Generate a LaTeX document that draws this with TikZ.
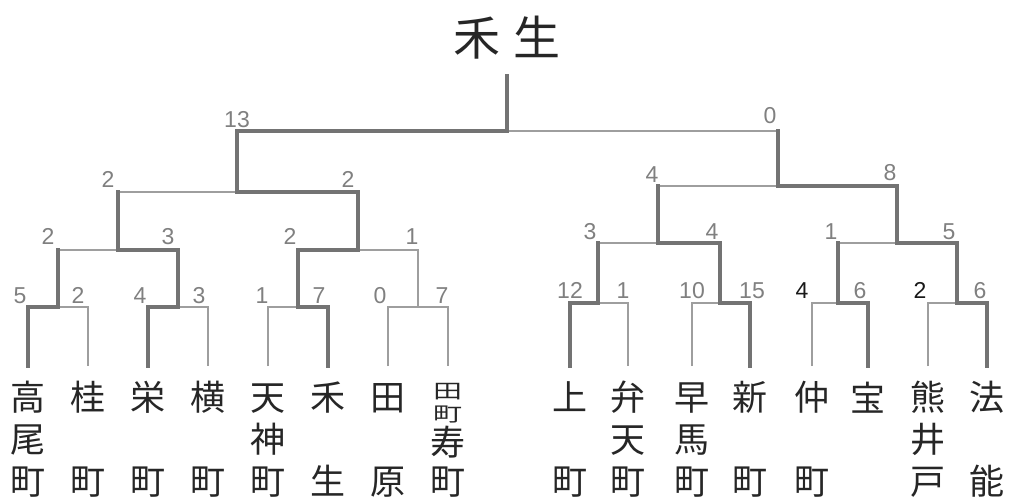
\documentclass[tikz,border=0pt]{standalone}
\usepackage{fontspec}
\usepackage{graphicx}
\newfontfamily\cjk{Noto Sans CJK JP}
\newfontfamily\numf{Liberation Sans}
\begin{document}
\begin{tikzpicture}[x=1pt,y=-1pt,
  thin line/.style={draw=black!38,line width=1.2pt},
  win line/.style={draw=black!55,line width=3.8pt,line cap=rect},
  score/.style={font=\numf\fontsize{23}{23}\selectfont,text=black!50,anchor=base,inner sep=0pt},
  bscore/.style={font=\numf\fontsize{23}{23}\selectfont,text=black!90,anchor=base,inner sep=0pt},
  leaf/.style={font=\cjk\fontsize{35}{42}\selectfont,text=black!85,anchor=base,align=center,inner sep=0pt}]
\useasboundingbox (0,0) rectangle (1011,500);
\fill[white] (0,0) rectangle (1011,500);
% title
\node[font=\cjk\fontsize{47}{47}\selectfont,text=black!85,anchor=base,inner sep=0pt] (title) at (507,56) {禾\hspace{14pt}生};
% leaf ends
\foreach \n/\x in {1/28,2/88,3/148,4/208,5/268,6/328,7/388,8/448,9/570,10/628,11/692,12/750,13/812,14/868,15/928,16/987}
  \coordinate (b\n) at (\x,366);
% junctions left
\coordinate (m1) at (58,307); \coordinate (m2) at (178,307);
\coordinate (m3) at (298,307); \coordinate (m4) at (418,307);
\coordinate (q1) at (118,250); \coordinate (q2) at (358,250);
\coordinate (s1) at (237,192);
% junctions right
\coordinate (m5) at (598,303); \coordinate (m6) at (720,303);
\coordinate (m7) at (838,303); \coordinate (m8) at (957,303);
\coordinate (q3) at (658,243); \coordinate (q4) at (897,243);
\coordinate (s2) at (778,186);
\coordinate (f) at (507,131);
\coordinate (top) at (507,76);
% thin lines
\draw[thin line] (b1) |- (m1) -| (b2);
\draw[thin line] (b3) |- (m2) -| (b4);
\draw[thin line] (b5) |- (m3) -| (b6);
\draw[thin line] (b7) |- (m4) -| (b8);
\draw[thin line] (b9) |- (m5) -| (b10);
\draw[thin line] (b11) |- (m6) -| (b12);
\draw[thin line] (b13) |- (m7) -| (b14);
\draw[thin line] (b15) |- (m8) -| (b16);
\draw[thin line] (m1) |- (q1) -| (m2);
\draw[thin line] (m3) |- (q2) -| (m4);
\draw[thin line] (m5) |- (q3) -| (m6);
\draw[thin line] (m7) |- (q4) -| (m8);
\draw[thin line] (q1) |- (s1) -| (q2);
\draw[thin line] (q3) |- (s2) -| (q4);
\draw[thin line] (s1) |- (f) -| (s2);
% winner paths
\draw[win line] (b1) |- (m1) -- (m1 |- q1);
\draw[win line] (b3) |- (m2) -- (q1 -| m2) -- (q1) -- (s1 -| q1);
\draw[win line] (b6) |- (m3) -- (q2 -| m3) -- (q2) -- (s1 -| q2) -- (s1) -- (s1 |- f) -- (f) -- (top);
\draw[win line] (b9) |- (m5) -- (m5 |- q3);
\draw[win line] (b12) |- (m6) -- (q3 -| m6) -- (q3) -- (s2 -| q3);
\draw[win line] (b14) |- (m7) -- (m7 |- q4);
\draw[win line] (b16) |- (m8) -- (q4 -| m8) -- (q4) -- (s2 -| q4) -- (s2) -- (s2 |- f);
% scores round 1
\node[score] (r1a) at (20,303) {5};
\node[score] (r1b) at (78,303) {2};
\node[score] (r1c) at (140,303) {4};
\node[score] (r1d) at (199,303) {3};
\node[score] (r1e) at (262,303) {1};
\node[score] (r1f) at (319,303) {7};
\node[score] (r1g) at (380,303) {0};
\node[score] (r1h) at (442,303) {7};
\node[score] (r1i) at (570,298) {12};
\node[score] (r1j) at (623,298) {1};
\node[score] (r1k) at (692,298) {10};
\node[score] (r1l) at (752,298) {15};
\node[bscore] (r1m) at (802,298) {4};
\node[score] (r1n) at (860,298) {6};
\node[bscore] (r1o) at (920,298) {2};
\node[score] (r1p) at (980,298) {6};
% round 2
\node[score] (r2a) at (48,244) {2};
\node[score] (r2b) at (168,244) {3};
\node[score] (r2c) at (290,244) {2};
\node[score] (r2d) at (412,244) {1};
\node[score] (r2e) at (590,239) {3};
\node[score] (r2f) at (712,239) {4};
\node[score] (r2g) at (831,239) {1};
\node[score] (r2h) at (949,239) {5};
% round 3
\node[score] (r3a) at (108,187) {2};
\node[score] (r3b) at (348,187) {2};
\node[score] (r3c) at (652,182) {4};
\node[score] (r3d) at (890,180) {8};
% final
\node[score] (r4a) at (237,128) {13};
\node[score] (r4b) at (770,124) {0};
% leaves (base = last line)
\node[leaf] (l1) at (28,494) {高\\尾\\町};
\node[leaf] (l2) at (88,494) {桂\\\phantom{町}\\町};
\node[leaf] (l3) at (148,494) {栄\\\phantom{町}\\町};
\node[leaf] (l4) at (208,494) {横\\\phantom{町}\\町};
\node[leaf] (l5) at (268,494) {天\\神\\町};
\node[leaf] (l6) at (328,494) {禾\\\phantom{町}\\生};
\node[leaf] (l7) at (388,494) {田\\\phantom{町}\\原};
\node[leaf,font=\cjk\fontsize{29}{23}\selectfont] (l8a) at (448,421) {\scalebox{1}[0.68]{田}\\\scalebox{1}[0.68]{町}};
\node[leaf,font=\cjk\fontsize{35}{39}\selectfont] (l8) at (448,494) {寿\\町};
\node[leaf] (l9) at (570,494) {上\\\phantom{町}\\町};
\node[leaf] (l10) at (628,494) {弁\\天\\町};
\node[leaf] (l11) at (692,494) {早\\馬\\町};
\node[leaf] (l12) at (750,494) {新\\\phantom{町}\\町};
\node[leaf] (l13) at (812,494) {仲\\\phantom{町}\\町};
\node[leaf] (l14) at (868,411) {宝};
\node[leaf] (l15) at (928,494) {熊\\井\\戸};
\node[leaf] (l16) at (987,494) {法\\\phantom{町}\\能};
\end{tikzpicture}
\end{document}
